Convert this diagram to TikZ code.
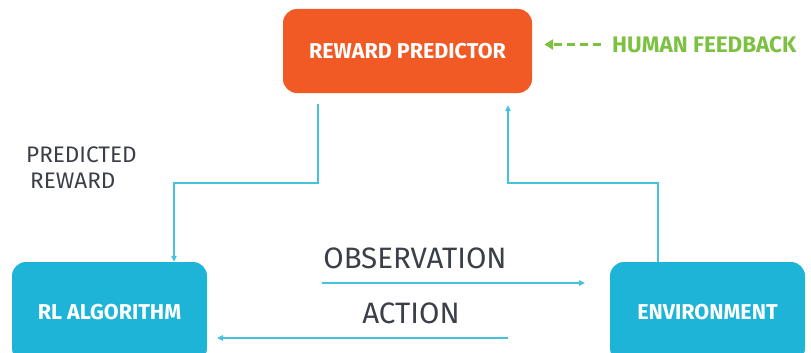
\documentclass[tikz,border=0pt]{standalone}
\usepackage{fontspec}
\setmainfont{Fira Sans}
\usetikzlibrary{arrows.meta}
\definecolor{rporange}{HTML}{F15A24}
\definecolor{boxblue}{HTML}{1EB4D7}
\definecolor{flowblue}{HTML}{45C2E0}
\definecolor{fbgreen}{HTML}{7DC142}
\definecolor{textgray}{HTML}{3B4048}
\begin{document}
\begin{tikzpicture}[x=1pt,y=-1pt,
  block/.style={rounded corners=14pt, inner sep=0pt, text=white,
    font=\bfseries\fontsize{21.5}{21.5}\selectfont},
  flow/.style={draw=flowblue, line width=1.1pt,
    -{Triangle[length=6pt,width=5.5pt]}},
  caption/.style={text=textgray, inner sep=0pt,
    font=\fontsize{29.5}{29.5}\selectfont},
  sidecaption/.style={text=textgray, inner sep=0pt, align=left,
    font=\fontsize{22.5}{26}\selectfont},
  feedback/.style={draw=fbgreen, line width=3.2pt, dash pattern=on 8pt off 5pt,
    -{Triangle[length=9pt,width=10pt]}}
]
\useasboundingbox (0,0) rectangle (811,353);

% main blocks
\node[block, fill=rporange, minimum width=249pt, minimum height=84pt]
  (rp) at (407.5,51) {REWARD PREDICTOR};
\node[block, fill=boxblue, minimum width=195pt, minimum height=100pt]
  (rl) at (109.5,312) {RL ALGORITHM};
\node[block, fill=boxblue, minimum width=195pt, minimum height=100pt]
  (env) at (707.5,312) {ENVIRONMENT};

% human feedback input
\node[text=fbgreen, inner sep=0pt, anchor=west,
  font=\bfseries\fontsize{22.5}{22.5}\selectfont]
  (hf) at (612,44.5) {HUMAN FEEDBACK};
\draw[feedback] ([xshift=-11pt]hf.west) -- ([xshift=12pt]rp.east |- hf.west);

% predicted reward: predictor -> algorithm
\coordinate (rpout) at ([xshift=-89.5pt,yshift=-11pt]rp.south);
\coordinate (rlin) at ([xshift=64.5pt]rl.north);
\coordinate (leftbend) at (0,183);
\draw[flow] (rpout) -- (rpout |- leftbend) -| (rlin);
\node[sidecaption, anchor=north west] (pr) at (26,147)
  {PREDICTED\\\hspace*{4pt}REWARD};

% environment -> predictor
\coordinate (envout) at ([xshift=-49.5pt]env.north);
\coordinate (rpin) at ([xshift=100.5pt,yshift=-12pt]rp.south);
\draw[flow] (envout) -- (envout |- leftbend) -| (rpin);

% observation and action exchange
\coordinate (obsA) at (322,283);
\coordinate (obsB) at (585,283);
\coordinate (actA) at (508,338);
\coordinate (actB) at (217,338);
\draw[flow] (obsA) -- (obsB);
\draw[flow] (actA) -- (actB);
\node[caption] (obs) at (415,258) {OBSERVATION};
\node[caption] (act) at (411,313) {ACTION};
\end{tikzpicture}
\end{document}
